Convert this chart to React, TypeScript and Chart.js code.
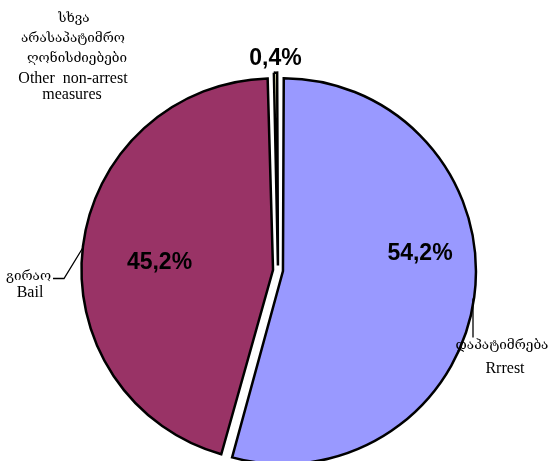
import React, { useEffect, useRef } from "react";
import { Chart, registerables } from "chart.js";

Chart.register(...registerables);

const categories = ["Arrest", "Bail", "Other non-arrest measures"];
const shares = [54.2, 45.2, 0.4];
const percentLabels = ["54,2%", "45,2%", "0,4%"];
const georgianNames = [["დაპატიმრება"], ["გირაო"], ["სხვა", "არასაპატიმრო", "ღონისძიებები"]];
const englishNames = [["Rrrest"], ["Bail"], ["Other  non-arrest", "measures"]];
const sliceColors = ["#9999FF", "#993366", "#FFFFCC"];

const W = 555;
const H = 461;

// label layout, relative to pie centre: [dx, dy-baseline]
const percentPos = [
  [142, -11],
  [-118.5, -2],
  [-2.5, -206],
];
// outer labels: list of [dx, dyBaseline, kind] per line
const outerPos = [
  [
    [224, 78, "ka"],
    [227, 102, "en"],
  ],
  [
    [-249.5, 9, "ka"],
    [-248, 26, "en"],
  ],
  [
    [-204, -249, "ka"],
    [-205, -229, "ka"],
    [-201, -209, "ka"],
    [-205, -188, "en"],
    [-206, -172, "en"],
  ],
];
const leaderLines = [
  [
    [195, 28],
    [195, 67],
  ],
  [
    [-225, 8],
    [-214, 8],
    [-195, -23],
  ],
  [],
];

const labelsPlugin = {
  id: "pieLabels",
  afterDatasetsDraw(chart: any) {
    const meta = chart.getDatasetMeta(0);
    const arc0 = meta.data[0];
    if (!arc0) return;
    const cx = arc0.x;
    const cy = arc0.y;
    const ctx = chart.ctx;
    ctx.save();
    ctx.fillStyle = "#000";
    ctx.strokeStyle = "#000";
    ctx.textAlign = "center";
    ctx.textBaseline = "alphabetic";
    ctx.font = "bold 23px 'Liberation Sans', Arial, sans-serif";
    percentLabels.forEach((t, i) => {
      ctx.fillText(t, cx + percentPos[i][0], cy + percentPos[i][1]);
    });
    categories.forEach((_, i) => {
      const lines = [...georgianNames[i], ...englishNames[i]];
      lines.forEach((t, j) => {
        const p = outerPos[i][j] as any;
        ctx.font =
          p[2] === "ka"
            ? "13.5px 'DejaVu Serif', 'Liberation Serif', serif"
            : "16px 'Liberation Serif', 'Times New Roman', serif";
        ctx.fillText(t, cx + p[0], cy + p[1]);
      });
      const ll = leaderLines[i];
      if (ll.length) {
        ctx.lineWidth = 1.3;
        ctx.beginPath();
        ll.forEach((pt, k) => {
          if (k === 0) ctx.moveTo(cx + pt[0], cy + pt[1]);
          else ctx.lineTo(cx + pt[0], cy + pt[1]);
        });
        ctx.stroke();
      }
    });
    ctx.restore();
  },
};

export default function App() {
  const ref = useRef<HTMLCanvasElement | null>(null);
  useEffect(() => {
    if (!ref.current) return;
    const chart = new Chart(ref.current, {
      type: "pie",
      data: {
        labels: categories,
        datasets: [
          {
            data: shares,
            backgroundColor: sliceColors,
            borderColor: "#000000",
            borderWidth: 2.5,
            borderJoinStyle: "miter",
            offset: 20,
            clip: false,
          } as any,
        ],
      },
      options: {
        animation: false,
        responsive: false,
        maintainAspectRatio: false,
        radius: 188,
        rotation: 0,
        layout: { padding: { top: 80, bottom: 0, left: 1, right: 0 } },
        plugins: {
          legend: { display: false },
          tooltip: { enabled: false },
          title: { display: false },
        },
        events: [],
      } as any,
      plugins: [labelsPlugin],
    });
    return () => chart.destroy();
  }, []);
  return (
    <div style={{ position: "fixed", left: 0, top: 0, width: W, height: H, background: "#fff" }}>
      <canvas ref={ref} width={W} height={H} style={{ width: W, height: H, display: "block" }} />
    </div>
  );
}
